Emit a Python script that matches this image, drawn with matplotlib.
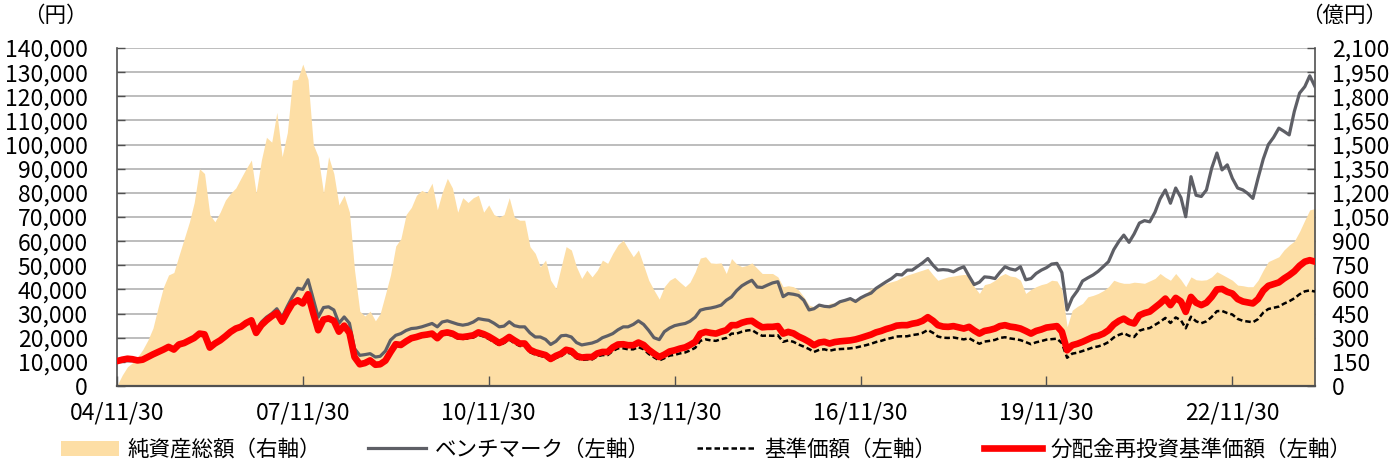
import matplotlib
matplotlib.use('Agg')
import matplotlib.pyplot as plt
import matplotlib.ticker as mticker
import matplotlib.dates as mdates
from matplotlib.patches import Patch
from matplotlib.lines import Line2D
import pandas as pd

plt.rcParams['font.family'] = ['Noto Sans CJK JP', 'DejaVu Sans']

# month-end dates 2004-11 ... 2024-03
dates = pd.date_range('2004-11-30', periods=233, freq='ME')

# 分配金再投資基準価額 (円)
reinv = [
    10300, 10900,
    11300, 11100, 10600, 10900, 12000, 13100, 14100, 15100, 16200, 15100, 17200, 17800,
    18900, 19900, 21700, 21400, 15900, 17600, 18900, 20600, 22400, 23800, 24500, 26100,
    27200, 22000, 25200, 27200, 28900, 30300, 26600, 30700, 34200, 35500, 34200, 38000,
    30000, 23100, 27500, 28000, 27000, 22500, 25000, 22000, 12000, 9000, 9500, 10600,
    8800, 9000, 10500, 14000, 17300, 17000, 18500, 19800, 20300, 21000, 21300, 21700,
    19800, 21800, 22200, 21700, 20500, 20300, 20600, 21000, 22200, 21500, 20500, 19200,
    17800, 18800, 20300, 18900, 17600, 17600, 15000, 14000, 13400, 12800, 11200, 12500,
    13400, 15000, 14500, 12500, 11800, 12000, 12000, 13500, 14100, 14100, 16000, 17200,
    17300, 16900, 16900, 18000, 17000, 15000, 13400, 12000, 13000, 14300, 14800, 15500,
    16000, 17000, 18300, 21700, 22400, 22000, 21700, 22500, 23100, 25200, 25200, 26200,
    26800, 27000, 25500, 24300, 24500, 24500, 24800, 21700, 22400, 21800, 20500, 19500,
    18300, 16900, 18000, 18300, 17600, 18200, 18500, 18700, 18900, 19300, 19900, 20600,
    21300, 22200, 22800, 23600, 24200, 25000, 25200, 25200, 25800, 26200, 27000, 28500,
    27000, 25200, 24600, 24500, 24800, 24300, 23800, 24500, 23000, 21700, 22800, 23200,
    23800, 24800, 25200, 24600, 24300, 23800, 22800, 21700, 22800, 23400, 24200, 24500,
    24800, 22500, 14800, 16900, 17500, 18300, 19300, 20300, 20800, 21700, 23100, 25500,
    27000, 27900, 26500, 25900, 29300, 30200, 30800, 32500, 34200, 36200, 33500, 36500,
    35000, 30700, 36900, 34500, 33500, 34500, 36900, 40000, 40200, 39000, 38300, 36000,
    35000, 34600, 34200, 36000, 39500, 41500, 42200, 42900, 44500, 45900, 47500, 49800,
    51500, 52100, 51500,
]

# 基準価額 (円)
nav = [
    10300, 10900,
    11300, 11100, 10600, 10900, 12000, 13100, 14100, 15100, 16200, 15100, 17200, 17800,
    18900, 19900, 21700, 21400, 15900, 17600, 18900, 20600, 22400, 23800, 24500, 26100,
    27200, 22000, 25200, 27200, 28900, 30300, 26600, 30700, 34200, 35500, 34200, 37800,
    29800, 23000, 27300, 27800, 26800, 22300, 24800, 21800, 11900, 8900, 9400, 10500,
    8700, 8900, 10400, 13800, 17000, 16700, 18100, 19400, 19800, 20400, 20700, 21100,
    19200, 21100, 21400, 20900, 19700, 19500, 19700, 20100, 21200, 20500, 19500, 18200,
    16900, 17800, 19200, 17800, 16600, 16500, 14000, 13000, 12500, 11900, 10400, 11600,
    12400, 13900, 13400, 11500, 10800, 11000, 11000, 12300, 12800, 12800, 14500, 15600,
    15600, 15200, 15200, 16100, 15200, 13300, 11900, 10600, 11500, 12600, 12900, 13500,
    13900, 14700, 15800, 18700, 19300, 18900, 18700, 19400, 19900, 21700, 21700, 22500,
    23000, 23200, 21800, 20800, 20900, 20800, 21000, 18300, 18900, 18300, 17200, 16300,
    15300, 14100, 15000, 15200, 14600, 15100, 15300, 15400, 15600, 15900, 16400, 16900,
    17500, 18200, 18700, 19400, 19900, 20500, 20600, 20600, 21100, 21400, 22000, 23200,
    22000, 20500, 20000, 19900, 20100, 19700, 19300, 19800, 18600, 17500, 18400, 18700,
    19100, 19900, 20200, 19700, 19400, 19000, 18200, 17300, 18100, 18600, 19200, 19400,
    19600, 17800, 11700, 13400, 13800, 14500, 15200, 16000, 16400, 17100, 18200, 20100,
    21200, 21900, 20800, 20300, 22900, 23600, 24000, 25300, 26600, 28200, 26100, 28400,
    27200, 23900, 28700, 26800, 26000, 26800, 28600, 31000, 31100, 30200, 29600, 27800,
    27000, 26700, 26400, 27700, 30400, 31900, 32400, 32900, 34100, 35100, 36300, 38000,
    39200, 39600, 39100,
]

# ベンチマーク (円)
bench = [
    10300, 10900,
    11300, 11100, 10600, 10900, 12000, 13100, 14100, 15100, 16200, 15100, 17200, 17800,
    18900, 19900, 21700, 21400, 15900, 17600, 18900, 20600, 22400, 23800, 24500, 26100,
    27200, 22500, 26500, 28500, 30000, 32000, 28500, 33000, 37000, 40500, 40000, 44000,
    36000, 28500, 32500, 32800, 31500, 26000, 28600, 26000, 15500, 12700, 13000, 13400,
    12000, 12300, 14500, 19000, 21000, 21700, 23000, 23800, 24000, 24500, 25200, 25900,
    24500, 26500, 27000, 26300, 25600, 25200, 25600, 26500, 27900, 27500, 27200, 26000,
    24500, 24800, 26600, 25000, 24500, 24500, 22000, 20300, 20300, 19300, 17200, 18500,
    20800, 21000, 20300, 18000, 17000, 17400, 17800, 18600, 20000, 20800, 21700, 23300,
    24500, 24500, 25500, 27000, 25500, 23000, 20000, 19200, 22500, 24000, 25000, 25500,
    25900, 26800, 28500, 31400, 32000, 32300, 32800, 33500, 35500, 36900, 39500, 41500,
    42800, 43800, 41000, 40800, 41800, 42700, 43200, 37000, 38300, 38000, 37500, 35500,
    31500, 32000, 33500, 33000, 32800, 33500, 34900, 35500, 36200, 35000, 36500, 37600,
    38500, 40400, 41800, 43200, 44500, 46200, 46000, 48000, 48000, 49500, 51000, 52800,
    50000, 48000, 48200, 48000, 47300, 48500, 49400, 45500, 42000, 43000, 45200, 45000,
    44500, 47000, 49400, 48500, 48000, 49400, 44000, 44500, 46600, 48000, 49000, 50500,
    50800, 47000, 31500, 36500, 39500, 43500, 44800, 46000, 47500, 49500, 51500, 56500,
    60000, 62500, 59500, 63000, 67500, 68500, 68000, 72000, 77500, 81200, 75700, 82000,
    78000, 70100, 86700, 79000, 78500, 81200, 90200, 96500, 89500, 91600, 86000, 82000,
    81200, 79800, 77700, 86000, 94000, 100000, 103000, 106800, 105500, 104000, 113700, 121300,
    124000, 128500, 124000,
]

# 純資産総額 (億円)
assets = [
    3, 68,
    120, 143, 180, 225, 285, 360, 492, 615, 690, 705, 810, 915,
    1020, 1140, 1350, 1320, 1065, 1020, 1080, 1155, 1197, 1230, 1290, 1350,
    1404, 1200, 1404, 1545, 1515, 1700, 1425, 1575, 1900, 1905, 2000, 1905,
    1500, 1425, 1200, 1425, 1320, 1125, 1185, 1080, 720, 465, 435, 465,
    405, 450, 570, 690, 870, 915, 1065, 1110, 1185, 1215, 1200, 1260,
    1095, 1200, 1290, 1230, 1080, 1170, 1140, 1170, 1185, 1080, 1125, 1065,
    1050, 1065, 1170, 1050, 1030, 1030, 866, 824, 741, 782, 657, 606,
    741, 866, 845, 741, 668, 720, 678, 720, 782, 762, 824, 878,
    906, 855, 803, 845, 750, 657, 596, 540, 617, 657, 675, 645,
    617, 645, 710, 795, 803, 765, 762, 765, 699, 792, 758, 741,
    750, 765, 731, 699, 699, 699, 678, 617, 623, 617, 596, 554,
    503, 492, 492, 492, 513, 518, 524, 533, 537, 543, 554, 575,
    606, 612, 623, 638, 648, 657, 675, 689, 699, 710, 720, 731,
    690, 657, 668, 678, 683, 689, 693, 690, 617, 575, 630, 638,
    657, 683, 699, 683, 678, 657, 575, 600, 617, 630, 638, 657,
    653, 600, 368, 471, 495, 513, 554, 563, 575, 593, 617, 657,
    645, 638, 638, 645, 642, 638, 653, 668, 699, 675, 657, 699,
    660, 617, 678, 660, 657, 660, 678, 710, 693, 675, 657, 627,
    623, 617, 617, 657, 720, 773, 788, 803, 845, 876, 900, 960,
    1031, 1094, 1103,
]

xtick_dates = ['2004-11-30', '2007-11-30', '2010-11-30', '2013-11-30',
               '2016-11-30', '2019-11-30', '2022-11-30']
left_ticks = list(range(0, 140001, 10000))
right_ticks = list(range(0, 2101, 150))

labels = ['純資産総額（右軸）', 'ベンチマーク（左軸）', '基準価額（左軸）', '分配金再投資基準価額（左軸）']

c_area = '#FDDEA5'
c_bench = '#5E5F66'
c_nav = '#000000'
c_reinv = '#FF0000'
c_axis = '#505050'

fig = plt.figure(figsize=(13.9, 4.65), dpi=100)
ax = fig.add_axes([117 / 1390, 79 / 465, 1198 / 1390, 338 / 465])
ax2 = ax.twinx()
ax.set_zorder(2)
ax2.set_zorder(1)
ax.patch.set_visible(False)

# area on right axis
ax2.fill_between(dates, 0, assets, color=c_area, lw=0, zorder=1)
ax2.set_ylim(0, 2100)
ax2.set_yticks(right_ticks)
ax2.yaxis.set_major_formatter(mticker.FuncFormatter(lambda v, p: f'{int(v):,}'))
ax2.set_axisbelow(True)
ax2.yaxis.grid(True, color='#B8B8B8', lw=1.3)
for s in ['top', 'left', 'bottom']:
    ax2.spines[s].set_visible(False)
ax2.spines['right'].set_color(c_axis)
ax2.spines['right'].set_linewidth(1.2)
ax2.tick_params(axis='y', direction='in', length=6, width=1, color=c_axis,
                pad=12, labelsize=16.5, labelcolor='black')

# lines on left axis
ax.plot(dates, bench, color=c_bench, lw=2.3, zorder=3)
ax.plot(dates, nav, color=c_nav, lw=1.8, ls=(0, (2.2, 1.2)), zorder=4)
ax.plot(dates, reinv, color=c_reinv, lw=4.8, zorder=5, solid_capstyle='round')
ax.set_ylim(0, 140000)
ax.set_yticks(left_ticks)
ax.yaxis.set_major_formatter(mticker.FuncFormatter(lambda v, p: f'{int(v):,}'))
ax.set_xlim(dates[0], dates[-1])
ax.set_xticks(pd.to_datetime(xtick_dates))
ax.xaxis.set_major_formatter(mdates.DateFormatter('%y/%m/%d'))
for s in ['top', 'right']:
    ax.spines[s].set_visible(False)
ax.spines['left'].set_color(c_axis)
ax.spines['left'].set_linewidth(1.2)
ax.spines['bottom'].set_color(c_axis)
ax.spines['bottom'].set_linewidth(1.6)
ax.tick_params(axis='y', direction='in', length=6, width=1, color=c_axis,
               pad=21, labelsize=16.5)
ax.tick_params(axis='x', direction='in', length=7, width=1, color=c_axis,
               pad=11, labelsize=16.5)

fig.text(55 / 1390, 1 - 16 / 465, '（円）', ha='center', va='center', fontsize=15.5)
fig.text(1387 / 1390, 1 - 16 / 465, '（億円）', ha='right', va='center', fontsize=15.5)

handles = [
    Patch(facecolor=c_area, edgecolor='none'),
    Line2D([], [], color=c_bench, lw=2.3),
    Line2D([], [], color=c_nav, lw=1.8, ls=(0, (2.2, 1.2))),
    Line2D([], [], color=c_reinv, lw=4.8),
]
fig.legend(handles, labels, loc='center', bbox_to_anchor=(706 / 1390, 1 - 450 / 465),
           ncol=4, frameon=False, fontsize=15.5, handlelength=2.7,
           handletextpad=0.4, columnspacing=2.2, borderaxespad=0, borderpad=0)

fig.savefig('out.png', dpi=100)
